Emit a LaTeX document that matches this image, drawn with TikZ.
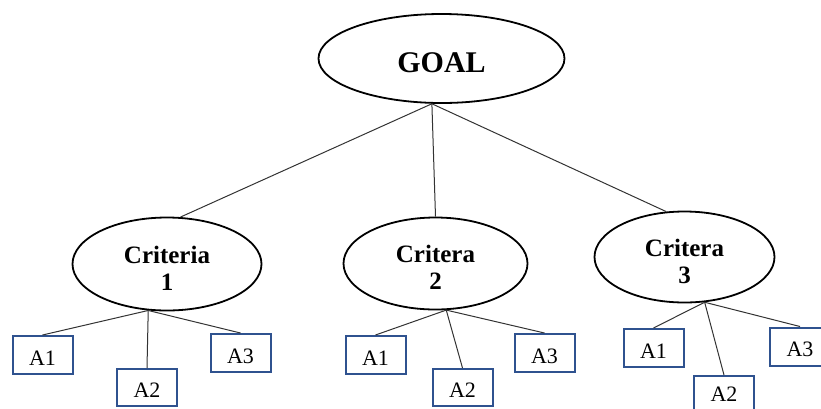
\documentclass[tikz,border=0pt]{standalone}
\usepackage{fontspec}
\setmainfont{Liberation Serif}
\usetikzlibrary{shapes.geometric}
\definecolor{boxblue}{RGB}{47,82,143}
\begin{document}
\begin{tikzpicture}[x=1pt,y=-1pt,
  goalnode/.style={ellipse,draw,line width=1.8pt,inner sep=0pt,
    font=\fontsize{30}{32}\selectfont\bfseries},
  crit/.style={ellipse,draw,line width=1.8pt,inner sep=0pt,
    font=\fontsize{25}{27}\selectfont\bfseries},
  alt/.style={rectangle,draw=boxblue,line width=2pt,minimum width=60pt,
    minimum height=38pt,inner sep=0pt,font=\fontsize{22}{24}\selectfont},
  link/.style={draw=black!80,line width=1pt}]
\useasboundingbox (0,0) rectangle (821,408);
\clip (0,0) rectangle (821,408);
\newcommand{\twoline}[2]{\raisebox{-26pt}[0pt][0pt]{\begin{tabular}[b]{@{}c@{}}#1\\#2\end{tabular}}}
\newcommand{\boxtxt}[1]{\raisebox{-10.3pt}[0pt][0pt]{#1}}
% goal
\node[goalnode,minimum width=246pt,minimum height=89pt] (goal) at (441.5,58.5) {\raisebox{-13.9pt}[0pt][0pt]{GOAL}};
% criteria
\node[crit,minimum width=189pt,minimum height=93pt] (c1) at (167,264) {\twoline{Criteria}{1}};
\node[crit,minimum width=184pt,minimum height=92pt] (c2) at (435.5,263.5) {\twoline{Critera}{2}};
\node[crit,minimum width=180pt,minimum height=91pt] (c3) at (684.5,257) {\twoline{Critera}{3}};
% alternatives
\node[alt] (a11) at (42.5,355) {\boxtxt{A1}};
\node[alt,minimum height=37pt] (a12) at (147,387.5) {\boxtxt{A2}};
\node[alt] (a13) at (240.5,353) {\boxtxt{A3}};
\node[alt] (a21) at (375.5,355) {\boxtxt{A1}};
\node[alt,minimum height=37pt] (a22) at (462.5,387.5) {\boxtxt{A2}};
\node[alt] (a23) at (544.5,353) {\boxtxt{A3}};
\node[alt] (a31) at (653.5,348) {\boxtxt{A1}};
\node[alt] (a32) at (724,395) {\raisebox{-6.3pt}[0pt][0pt]{A2}};
\node[alt] (a33) at (800,346.5) {\boxtxt{A3}};
% hubs
\coordinate (gh) at (goal.258);
\coordinate (h1) at (c1.248);
\coordinate (h2) at (c2.283);
\coordinate (h3) at (c3.294);
% connectors
\draw[link] (gh) -- (c1.74);
\draw[link] (gh) -- (c2.north);
\draw[link] (gh) -- (c3.112);
\draw[link] (h1) -- (a11.north);
\draw[link] (h1) -- (a12.north);
\draw[link] (h1) -- (a13.north);
\draw[link] (h2) -- (a21.north);
\draw[link] (h2) -- (a22.north);
\draw[link] (h2) -- (a23.north);
\draw[link] (h3) -- (a31.north);
\draw[link] (h3) -- (a32.north);
\draw[link] (h3) -- (a33.north);
\end{tikzpicture}
\end{document}
